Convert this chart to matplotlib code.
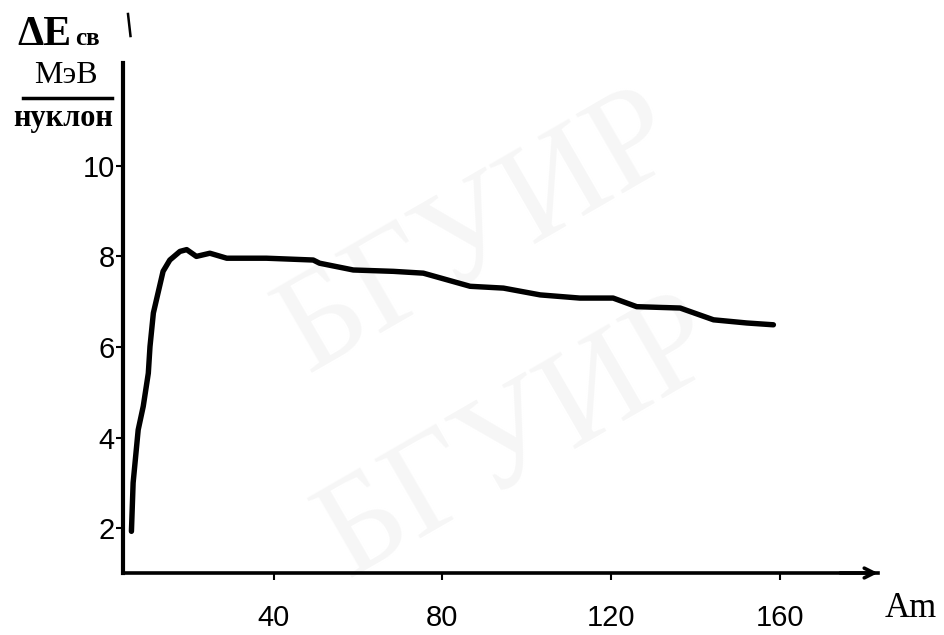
import matplotlib
matplotlib.use('Agg')
import matplotlib.pyplot as plt
from matplotlib.lines import Line2D

# Data
A = [6.3, 6.7, 7.9, 9.1, 10.3, 10.7, 11.5, 12.6, 13.8, 15.4, 17.8, 19.4, 21.7,
     24.9, 28.9, 38.3, 49.4, 50.9, 58.9, 68.4, 75.5, 86.6, 94.5, 103.2, 112.6,
     120.5, 126.1, 136.4, 144.3, 152.2, 158.5]
E = [1.93, 3.0, 4.17, 4.69, 5.42, 6.01, 6.75, 7.19, 7.67, 7.92, 8.11, 8.15, 8.00,
     8.07, 7.96, 7.96, 7.92, 7.85, 7.70, 7.67, 7.63, 7.34, 7.30, 7.15, 7.08,
     7.08, 6.89, 6.86, 6.60, 6.53, 6.49]
xticks = [40, 80, 120, 160]
yticks = [2, 4, 6, 8, 10]

W, H = 945, 635
fig = plt.figure(figsize=(W / 100, H / 100), dpi=100)
fig.patch.set_facecolor('white')

def fx(x):
    return x / W

def fy(y):
    return 1 - y / H

# faint watermark
wm = dict(color='#f6f6f6', fontsize=100, rotation=30, family='Liberation Serif',
          ha='center', va='center', zorder=-5)
fig.text(fx(480), fy(235), 'БГУИР', **wm)
fig.text(fx(520), fy(440), 'БГУИР', **wm)

ax = fig.add_axes([fx(123), 62 / H, 755 / W, 510 / H])
ax.set_facecolor('none')
ax.set_xlim(4.3, 183.3)
ax.set_ylim(1.01, 12.27)

ax.plot(A, E, color='black', lw=3.9, solid_capstyle='round', solid_joinstyle='round')

for s in ['top', 'right']:
    ax.spines[s].set_visible(False)
ax.spines['left'].set_linewidth(3.0)
ax.spines['bottom'].set_linewidth(2.6)

ax.annotate('', xy=(1.0, 0), xytext=(0.95, 0), xycoords='axes fraction',
            arrowprops=dict(arrowstyle='->,head_length=0.7,head_width=0.35',
                            lw=2.6, color='black', shrinkA=0, shrinkB=0))

ax.set_xticks(xticks)
ax.set_yticks(yticks)
ax.set_xticklabels([str(v) for v in xticks], family='Liberation Sans', fontsize=21)
ax.set_yticklabels([str(v) for v in yticks], family='Liberation Sans', fontsize=21)
ax.tick_params(axis='x', direction='out', length=5, width=1.5, pad=17)
ax.tick_params(axis='y', direction='out', length=5, width=1.5, pad=1)

# axis labels
fig.text(fx(17), fy(45), 'ΔE', family='Liberation Serif', fontweight='bold',
         fontsize=30, va='baseline', ha='left')
fig.text(fx(75), fy(45), 'св', family='Liberation Serif', fontweight='bold',
         fontsize=18, va='baseline', ha='left')
fig.text(fx(66), fy(83), 'МэВ', family='Liberation Serif', fontsize=23,
         va='baseline', ha='center')
fig.add_artist(Line2D([fx(23), fx(112)], [fy(98), fy(98)], lw=2.5, color='black'))
fig.text(fx(63), fy(126), 'нуклон', family='Liberation Serif', fontweight='bold',
         fontsize=22, va='baseline', ha='center')
fig.text(fx(885), fy(617), 'Am', family='Liberation Serif', fontsize=25,
         va='baseline', ha='left')
fig.add_artist(Line2D([fx(128), fx(130.5)], [fy(14), fy(36)], lw=1.8, color='black'))

fig.savefig('out.png', dpi=100)
